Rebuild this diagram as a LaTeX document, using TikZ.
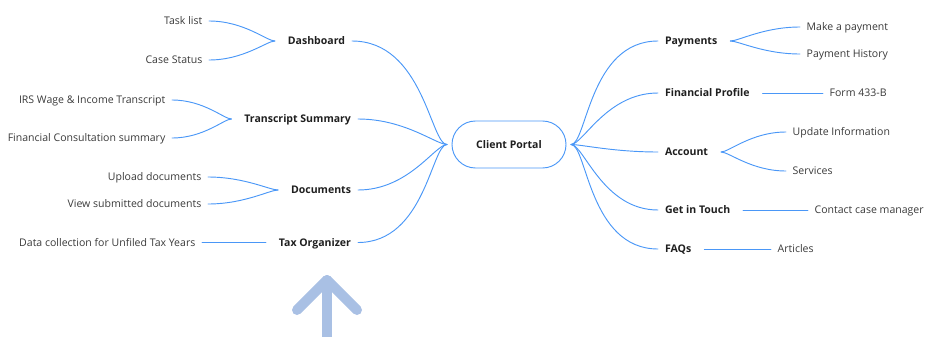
\documentclass[tikz,border=0pt]{standalone}
\usepackage{fontspec}
\setmainfont{Open Sans}
\definecolor{linkblue}{HTML}{4A97F7}
\definecolor{leafgray}{HTML}{3A3A3A}
\definecolor{arrowblue}{HTML}{A9C0E4}
\tikzset{
  link/.style={draw=linkblue,line width=0.7pt},
  lbranch/.style={out=180,in=0,out looseness=0.3,in looseness=1.3},
  rbranch/.style={out=0,in=180,out looseness=0.3,in looseness=1.3},
  topic/.style={font=\fontsize{7.9}{10}\selectfont\bfseries,text=black!88,inner xsep=0pt,
    text height=5.6pt,text depth=0pt,outer xsep=5.25pt},
  leaf/.style={font=\fontsize{7.9}{10}\selectfont,text=leafgray,inner xsep=0pt,
    text height=5.6pt,text depth=0pt,outer xsep=5pt},
  hub/.style={draw=linkblue,line width=0.7pt,rounded corners=17.6pt,minimum width=85.5pt,
    minimum height=35.25pt,font=\fontsize{7.9}{10}\selectfont\bfseries,text=black!88,
    text height=5.6pt,text depth=0pt,outer xsep=3.75pt}
}
\begin{document}
\begin{tikzpicture}[x=0.75pt,y=-0.75pt,line cap=round,line join=round]
  \useasboundingbox (0,0) rectangle (946,336);
  \node[hub] (cp) at (509,144.5) {Client Portal};
  % left side
  \node[topic,anchor=east] (dash) at (352,41) {Dashboard};
  \node[topic,anchor=east] (trans) at (358,119) {Transcript Summary};
  \node[topic,anchor=east] (docs) at (358,190) {Documents};
  \node[topic,anchor=east] (tax) at (358,242.5) {Tax Organizer};
  \node[leaf,anchor=east] (task) at (209,21) {Task list};
  \node[leaf,anchor=east] (status) at (209,60) {Case Status};
  \node[leaf,anchor=east] (irs) at (172,100) {IRS Wage \& Income Transcript};
  \node[leaf,anchor=east] (consult) at (172,138) {Financial Consultation summary};
  \node[leaf,anchor=east] (upload) at (208,177) {Upload documents};
  \node[leaf,anchor=east] (view) at (208,204) {View submitted documents};
  \node[leaf,anchor=east] (datacol) at (202,242.5) {Data collection for Unfiled Tax Years};
  % right side
  \node[topic,anchor=west] (pay) at (658,41) {Payments};
  \node[topic,anchor=west] (prof) at (658,93) {Financial Profile};
  \node[topic,anchor=west] (acct) at (658,152) {Account};
  \node[topic,anchor=west] (touch) at (658,210) {Get in Touch};
  \node[topic,anchor=west] (faq) at (658,249) {FAQs};
  \node[leaf,anchor=west] (make) at (800,27) {Make a payment};
  \node[leaf,anchor=west] (hist) at (800,54) {Payment History};
  \node[leaf,anchor=west] (form) at (823,93) {Form 433-B};
  \node[leaf,anchor=west] (update) at (786,132) {Update Information};
  \node[leaf,anchor=west] (serv) at (786,171) {Services};
  \node[leaf,anchor=west] (contact) at (808,210) {Contact case manager};
  \node[leaf,anchor=west] (articles) at (771,249) {Articles};

  \draw[link] (cp.west) to[lbranch] (dash.east);
  \draw[link] (cp.west) to[lbranch] (trans.east);
  \draw[link] (cp.west) to[lbranch] (docs.east);
  \draw[link] (cp.west) to[lbranch] (tax.east);
  \draw[link] ([xshift=-4.5pt]dash.west) to[lbranch] (task.east);
  \draw[link] ([xshift=-4.5pt]dash.west) to[lbranch] (status.east);
  \draw[link] ([xshift=-4.5pt]trans.west) to[lbranch] (irs.east);
  \draw[link] ([xshift=-4.5pt]trans.west) to[lbranch] (consult.east);
  \draw[link] ([xshift=-4.5pt]docs.west) to[lbranch] (upload.east);
  \draw[link] ([xshift=-4.5pt]docs.west) to[lbranch] (view.east);
  \draw[link] ([xshift=-4.5pt]tax.west) -- (datacol.east);

  \draw[link] (cp.east) to[rbranch] (pay.west);
  \draw[link] (cp.east) to[rbranch] (prof.west);
  \draw[link] (cp.east) to[rbranch] (acct.west);
  \draw[link] (cp.east) to[rbranch] (touch.west);
  \draw[link] (cp.east) to[rbranch] (faq.west);
  \draw[link] ([xshift=4.5pt]pay.east) to[rbranch] (make.west);
  \draw[link] ([xshift=4.5pt]pay.east) to[rbranch] (hist.west);
  \draw[link] ([xshift=4.5pt]prof.east) -- (form.west);
  \draw[link] ([xshift=4.5pt]acct.east) to[rbranch] (update.west);
  \draw[link] ([xshift=4.5pt]acct.east) to[rbranch] (serv.west);
  \draw[link] ([xshift=4.5pt]touch.east) -- (contact.west);
  \draw[link] ([xshift=4.5pt]faq.east) -- (articles.west);

  \begin{scope}
    \clip (0,0) rectangle (946,336);
    \draw[arrowblue,line width=7.5pt] (297,310) -- (327,280) -- (357,310);
    \draw[arrowblue,line width=7.5pt] (327,280) -- (327,350);
  \end{scope}
\end{tikzpicture}
\end{document}
